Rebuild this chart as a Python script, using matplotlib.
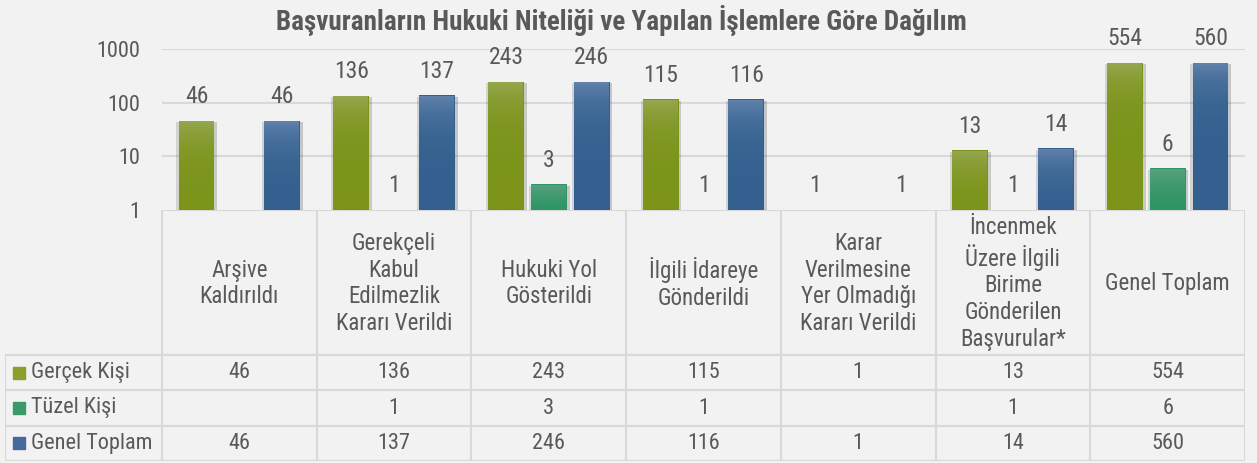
import numpy as np
import matplotlib
matplotlib.use("Agg")
import matplotlib.pyplot as plt
from matplotlib.patches import Rectangle
from matplotlib import patheffects as pe
from matplotlib.colors import LinearSegmentedColormap

plt.rcParams['font.family'] = ['Roboto Condensed', 'Liberation Sans', 'DejaVu Sans']

# veriler
kategoriler = ["Arşive\nKaldırıldı",
               "Gerekçeli\nKabul\nEdilmezlik\nKararı Verildi",
               "Hukuki Yol\nGösterildi",
               "İlgili İdareye\nGönderildi",
               "Karar\nVerilmesine\nYer Olmadığı\nKararı Verildi",
               "İncenmek\nÜzere İlgili\nBirime\nGönderilen\nBaşvurular*",
               "Genel Toplam"]
seriler = ["Gerçek Kişi", "Tüzel Kişi", "Genel Toplam"]
gercek_kisi = [46, 136, 243, 115, 1, 13, 554]
tuzel_kisi = [None, 1, 3, 1, None, 1, 6]
genel_toplam = [46, 137, 246, 116, 1, 14, 560]
y_ticks = [1, 10, 100, 1000]

renkler = [("#97a853", "#7b9419"), ("#5da283", "#2e9564"), ("#6384ad", "#33608f")]
legend_renk = ["#8a9f2c", "#3b9a6c", "#45699a"]
yazi = "#595959"
cizgi = "#d9d9d9"
arka = "#f2f2f2"

W, H = 1257, 463
fig = plt.figure(figsize=(W / 100, H / 100), dpi=100, facecolor=arka)

# grafik alani
x0, x1, ytop, ybot = 162, 1245, 49, 210
ax = fig.add_axes([x0 / W, 1 - ybot / H, (x1 - x0) / W, (ybot - ytop) / H])
ax.set_facecolor(arka)
ax.set_yscale('log')
ax.set_ylim(1, 1000)
ax.set_xlim(0, len(kategoriler))
ax.set_yticks(y_ticks)
ax.set_yticklabels([str(t) for t in y_ticks])
ax.minorticks_off()
ax.tick_params(axis='y', length=0, pad=16, labelsize=16, labelcolor=yazi)
ax.tick_params(axis='x', length=0, labelbottom=False)
for s in ax.spines.values():
    s.set_visible(False)
for t in y_ticks[1:]:
    ax.axhline(t, color=cizgi, lw=1.5, zorder=0)

offs = [-0.277, 0.0, 0.277]
bw = 0.232
golge = [pe.SimplePatchShadow(offset=(-1.5, -1), alpha=0.15),
         pe.SimplePatchShadow(offset=(2, -1), alpha=0.2),
         pe.Normal()]
for k, vals in enumerate([gercek_kisi, tuzel_kisi, genel_toplam]):
    cmap = LinearSegmentedColormap.from_list("g%d" % k, [renkler[k][1], renkler[k][0]])
    for i, v in enumerate(vals):
        if v is None:
            continue
        xc = i + 0.5 + offs[k]
        if v > 1:
            b = ax.bar(xc, v - 1, bottom=1, width=bw, color=renkler[k][1], zorder=2,
                       path_effects=golge)[0]
            grad = np.linspace(0, 1, 256).reshape(-1, 1)
            im = ax.imshow(grad, cmap=cmap, origin='lower', aspect='auto',
                           extent=[xc - bw / 2, xc + bw / 2, 1, v], zorder=3)
            im.set_clip_path(b)
        ax.annotate(str(v), (xc, v), xytext=(0, 9), textcoords='offset points',
                    ha='center', va='bottom', fontsize=17, color=yazi,
                    annotation_clip=False)
ax.set_xlim(0, len(kategoriler))
ax.set_ylim(1, 1000)

fig.text(0.494, 1 - 20 / H, "Başvuranların Hukuki Niteliği ve Yapılan İşlemlere Göre Dağılım",
         ha='center', va='center', fontsize=19.5, fontweight='bold', color=yazi)

# veri tablosu
n = len(kategoriler)
cat_px = (x1 - x0) / n
left_px = 5
tax = fig.add_axes([left_px / W, 1 - 461 / H, (x1 - left_px) / W, (461 - ybot) / H])
tax.set_xlim(-(x0 - left_px) / cat_px, n)
tax.set_ylim(461 - ybot, 0)
tax.axis('off')
head_h = 145
row_h = (461 - ybot - head_h) / 3
tkw = dict(color=cizgi, lw=1.5, solid_capstyle='butt')
# baslik satiri
tax.plot([0, n], [0, 0], **tkw)
for i in range(n + 1):
    tax.plot([i, i], [0, head_h], **tkw)
xl = tax.get_xlim()[0]
for r in range(4):
    y = head_h + r * row_h
    tax.plot([xl, n], [y, y], **tkw)
for xv in [xl] + list(range(n + 1)):
    tax.plot([xv, xv], [head_h, head_h + 3 * row_h], **tkw)
for i, c in enumerate(kategoriler):
    tax.text(i + 0.5, head_h / 2 + 1, c, ha='center', va='center', fontsize=16.5,
             color=yazi, linespacing=1.2)
for r, (ad, vals) in enumerate(zip(seriler, [gercek_kisi, tuzel_kisi, genel_toplam])):
    yc = head_h + (r + 0.5) * row_h
    sq = 12 / cat_px
    tax.add_patch(Rectangle((xl + 8 / cat_px, yc - 6), sq, 12, color=legend_renk[r]))
    tax.text(xl + 26 / cat_px, yc, ad, ha='left', va='center', fontsize=16, color=yazi)
    for i, v in enumerate(vals):
        if v is not None:
            tax.text(i + 0.5, yc, str(v), ha='center', va='center', fontsize=16, color=yazi)

fig.savefig("out.png", dpi=100, facecolor=arka)
